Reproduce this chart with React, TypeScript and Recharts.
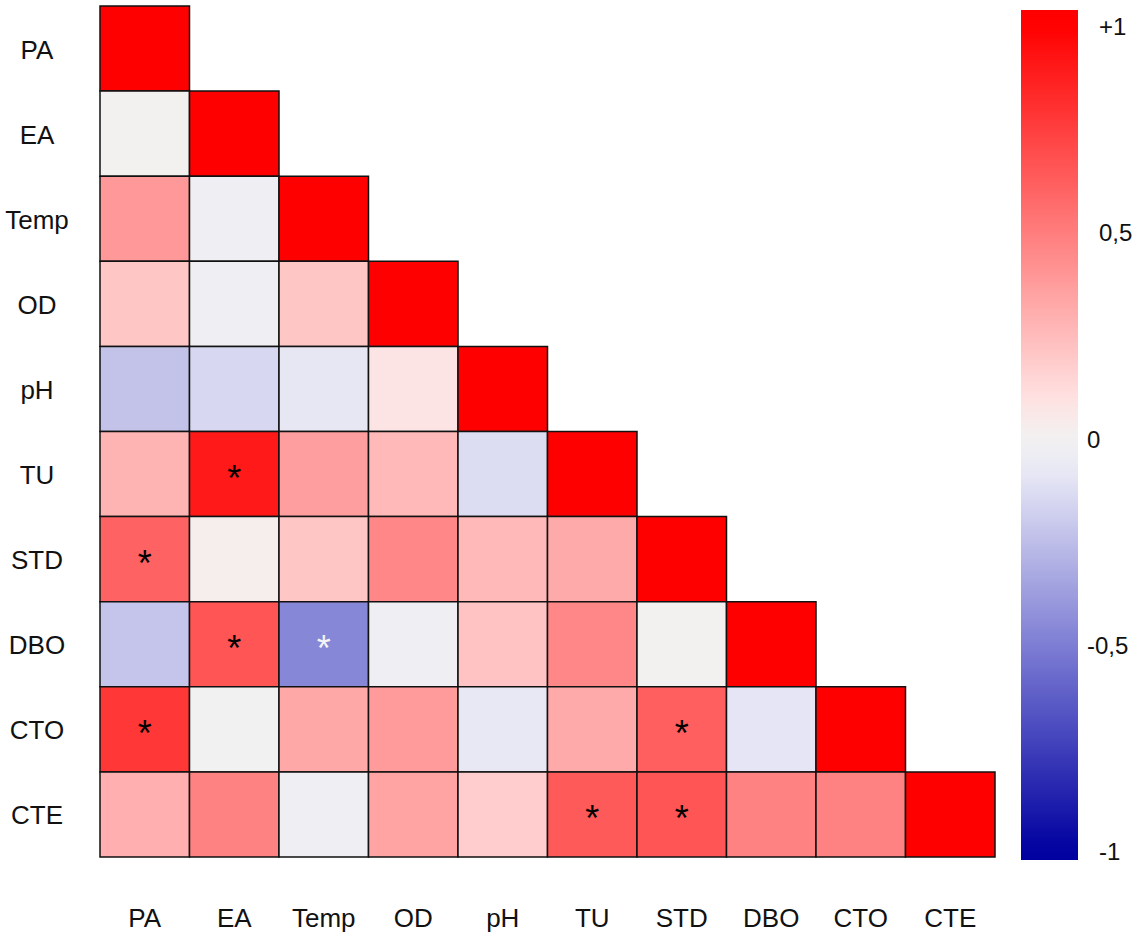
import {
  ScatterChart,
  Scatter,
  XAxis,
  YAxis,
  ReferenceArea,
  BarChart,
  Bar,
} from "recharts";

// variables, in the order of rows (top to bottom) and columns (left to right)
const variables = ["PA", "EA", "Temp", "OD", "pH", "TU", "STD", "DBO", "CTO", "CTE"];

// lower triangle of the correlation matrix, row by row (diagonal = 1)
const corrRows: number[][] = [
  [1],
  [0.01, 1],
  [0.39, -0.02, 1],
  [0.21, -0.02, 0.21, 1],
  [-0.23, -0.15, -0.08, 0.08, 1],
  [0.28, 0.9, 0.37, 0.26, -0.13, 1],
  [0.61, 0.03, 0.21, 0.46, 0.26, 0.32, 1],
  [-0.22, 0.66, -0.46, -0.03, 0.22, 0.46, 0.01, 1],
  [0.78, -0.01, 0.33, 0.38, -0.07, 0.32, 0.62, -0.09, 1],
  [0.3, 0.48, -0.02, 0.35, 0.18, 0.64, 0.66, 0.48, 0.48, 1],
];

// significant pairs [row, column] marked with an asterisk
const significant: [number, number][] = [
  [5, 1],
  [6, 0],
  [7, 1],
  [7, 2],
  [8, 0],
  [8, 6],
  [9, 5],
  [9, 6],
];

// colour bar
const scaleTicks = [1, 0.5, 0, -0.5, -1];
const scaleTickLabels = ["+1", "0,5", "0", "-0,5", "-1"];
const scaleSpan = [{ name: "r", span: [-1.02, 1.04] }];

const FONT = "'Liberation Sans', Arial, sans-serif";

// colour scale: value -> rgb
const colorStops: [number, number[]][] = [
  [-1, [0, 0, 160]],
  [-0.5, [125, 125, 212]],
  [-0.1, [228, 228, 245]],
  [0, [242, 242, 242]],
  [0.1, [255, 225, 225]],
  [1, [255, 0, 0]],
];

function corrColor(v: number): string {
  const x = Math.max(-1, Math.min(1, v));
  for (let k = 1; k < colorStops.length; k++) {
    const [v0, c0] = colorStops[k - 1];
    const [v1, c1] = colorStops[k];
    if (x <= v1) {
      const t = (x - v0) / (v1 - v0);
      const c = c0.map((ch, n) => Math.round(ch + (c1[n] - ch) * t));
      return `rgb(${c[0]},${c[1]},${c[2]})`;
    }
  }
  return "rgb(255,0,0)";
}

const cells = corrRows.flatMap((row, i) =>
  row.map((v, j) => ({ row: i, col: j, v }))
);

const stars = significant.map(([i, j]) => ({
  x: j + 0.5,
  y: i + 0.5,
  v: corrRows[i][j],
}));

const centerTicks = variables.map((_, k) => k + 0.5);

const YTick = (props: any) => (
  <text
    x={37}
    y={props.y + 1}
    textAnchor="middle"
    dominantBaseline="central"
    fontFamily={FONT}
    fontSize={26}
    fill="#111"
  >
    {variables[Math.floor(props.payload.value)]}
  </text>
);

const XTick = (props: any) => (
  <text
    x={props.x}
    y={props.y + 61}
    textAnchor="middle"
    dominantBaseline="central"
    fontFamily={FONT}
    fontSize={26}
    fill="#111"
  >
    {variables[Math.floor(props.payload.value)]}
  </text>
);

const StarShape = (props: any) => (
  <text
    x={props.cx}
    y={props.cy + 17}
    textAnchor="middle"
    fontFamily={FONT}
    fontSize={36}
    fill={props.payload.v < -0.4 ? "#f4f4f4" : "#000"}
  >
    *
  </text>
);

const ScaleTick = (props: any) => {
  const v = props.payload.value;
  const idx = scaleTicks.indexOf(v);
  const x = v === 0 || v === -0.5 ? 87 : 99;
  return (
    <text
      x={x}
      y={props.y}
      textAnchor="start"
      dominantBaseline="central"
      fontFamily={FONT}
      fontSize={24}
      fill="#111"
    >
      {scaleTickLabels[idx]}
    </text>
  );
};

const gradientStops = Array.from({ length: 43 }, (_, k) => {
  const v = 1.04 - (k * 2.06) / 42;
  return { offset: (1.04 - v) / 2.06, color: corrColor(v) };
});

export default function App() {
  return (
    <div
      style={{
        position: "absolute",
        left: 0,
        top: 0,
        width: 1141,
        height: 934,
        background: "#fff",
      }}
    >
      <div style={{ position: "absolute", left: 0, top: 0 }}>
        <ScatterChart
          width={1000}
          height={934}
          margin={{ top: 6, right: 5, bottom: 0, left: 0 }}
        >
          <XAxis
            type="number"
            dataKey="x"
            domain={[0, 10]}
            ticks={centerTicks}
            height={77}
            tickLine={false}
            axisLine={false}
            tickSize={0}
            tickMargin={0}
            tick={<XTick />}
            allowDataOverflow
          />
          <YAxis
            type="number"
            dataKey="y"
            domain={[0, 10]}
            reversed
            ticks={centerTicks}
            width={100}
            tickLine={false}
            axisLine={false}
            tickSize={0}
            tickMargin={0}
            tick={<YTick />}
            allowDataOverflow
          />
          {cells.map((c) => (
            <ReferenceArea
              key={`cell-${c.row}-${c.col}`}
              x1={c.col}
              x2={c.col + 1}
              y1={c.row}
              y2={c.row + 1}
              fill={corrColor(c.v)}
              fillOpacity={1}
              stroke="#111"
              strokeWidth={1.5}
              ifOverflow="visible"
            />
          ))}
          <Scatter data={stars} shape={<StarShape />} isAnimationActive={false} />
        </ScatterChart>
      </div>
      <div style={{ position: "absolute", left: 1000, top: 0 }}>
        <BarChart
          width={141}
          height={934}
          data={scaleSpan}
          margin={{ top: 10, right: 0, bottom: 74, left: 21 }}
          barCategoryGap={0}
        >
          <defs>
            <linearGradient id="cbar" x1="0" y1="0" x2="0" y2="1">
              {gradientStops.map((s, k) => (
                <stop key={k} offset={s.offset} stopColor={s.color} />
              ))}
            </linearGradient>
          </defs>
          <XAxis dataKey="name" hide />
          <YAxis
            orientation="right"
            type="number"
            domain={[-1.02, 1.04]}
            ticks={scaleTicks}
            width={63}
            tickLine={false}
            axisLine={false}
            tickSize={0}
            tickMargin={0}
            tick={<ScaleTick />}
            allowDataOverflow
          />
          <Bar dataKey="span" fill="url(#cbar)" isAnimationActive={false} />
        </BarChart>
      </div>
    </div>
  );
}
